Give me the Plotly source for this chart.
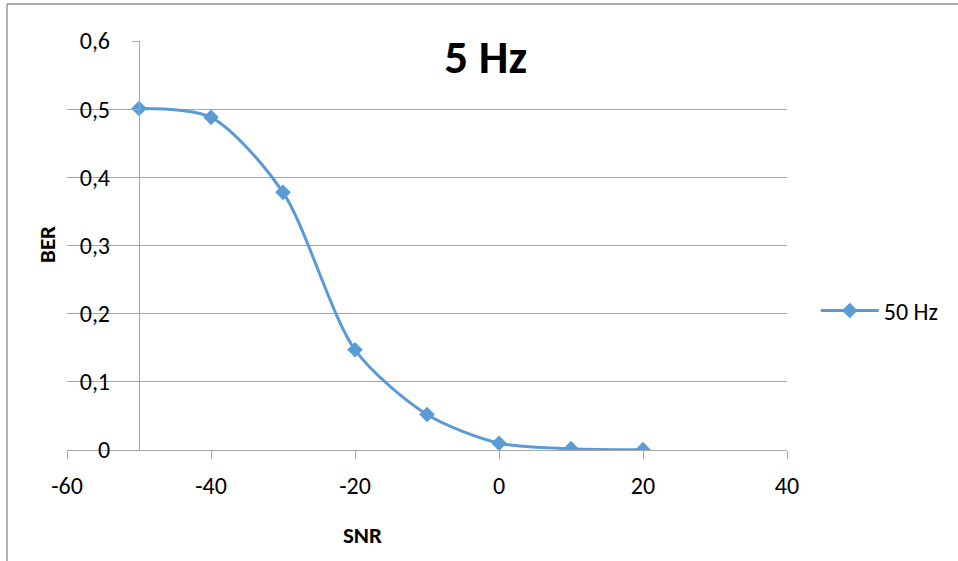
import plotly.graph_objects as go

snr = [-50, -40, -30, -20, -10, 0, 10, 20]
ber = [0.501, 0.488, 0.378, 0.147, 0.052, 0.010, 0.002, 0.0005]
series_name = "50 Hz"
title_text = "5 Hz"
x_title = "SNR"
y_title = "BER"
x_ticks = [-60, -40, -20, 0, 20, 40]
x_ticktext = ["-60", "-40", "-20", "0", "20", "40"]
y_ticks = [0, 0.1, 0.2, 0.3, 0.4, 0.5, 0.6]
y_ticktext = ["0", "0,1", "0,2", "0,3", "0,4", "0,5", "0,6"]

FONT = "Carlito, Calibri, Lato, 'Open Sans', sans-serif"
BLUE = "#5B9BD5"
GRID = "#A6A6A6"

fig = go.Figure()
fig.add_trace(go.Scatter(
    x=snr, y=ber, name=series_name, mode="lines+markers",
    line=dict(color=BLUE, width=3, shape="spline", smoothing=0.8),
    marker=dict(symbol="diamond", size=12, color=BLUE),
))

fig.update_layout(
    width=958, height=561,
    margin=dict(l=67, r=171, t=41, b=111),
    paper_bgcolor="white", plot_bgcolor="white",
    font=dict(family=FONT, size=24, color="black"),
    title=dict(text="<b>" + title_text + "</b>", x=0.507, xanchor="center",
               y=0.90, yanchor="middle", yref="container",
               font=dict(size=47, family=FONT)),
    showlegend=True,
    legend=dict(x=1.04, y=0.34, xanchor="left", yanchor="middle",
                font=dict(size=24), itemwidth=58, bgcolor="rgba(0,0,0,0)"),
    xaxis=dict(range=[-60, 40], tickvals=x_ticks, ticktext=x_ticktext, showgrid=False,
               zeroline=False, showline=True, linecolor=GRID, linewidth=1.3,
               ticks="outside", ticklen=8, tickcolor=GRID, tickwidth=1.3,
               ticklabelstandoff=6),
    yaxis=dict(range=[0, 0.6], tickvals=y_ticks, ticktext=y_ticktext,
               anchor="free", position=0.1,
               showgrid=True, gridcolor=GRID, gridwidth=1.3,
               zeroline=False, showline=True, linecolor=GRID, linewidth=1.3,
               ticks="outside", ticklen=7, tickcolor=GRID, tickwidth=1.3,
               ticklabelstandoff=17),
)

# axis titles
fig.add_annotation(text="<b>" + x_title + "</b>", xref="paper", yref="paper",
                   x=(362 - 67) / 720, y=(450 - 535) / 409, xanchor="center", yanchor="middle",
                   showarrow=False, font=dict(size=23))
fig.add_annotation(text="<b>" + y_title + "</b>", xref="paper", yref="paper", textangle=-90,
                   x=(47 - 67) / 720, y=(450 - 245) / 409, xanchor="center", yanchor="middle",
                   showarrow=False, font=dict(size=23))

# chart border (top and left edges visible)
fig.add_shape(type="line", xref="paper", yref="paper", x0=-0.0833, x1=1.24, y0=1.0905, y1=1.0905,
              line=dict(color="#8C8C8C", width=1.3))
fig.add_shape(type="line", xref="paper", yref="paper", x0=-0.0833, x1=-0.0833, y0=1.0905, y1=-0.28,
              line=dict(color="#8C8C8C", width=1.3))

fig.write_html("out.html")
